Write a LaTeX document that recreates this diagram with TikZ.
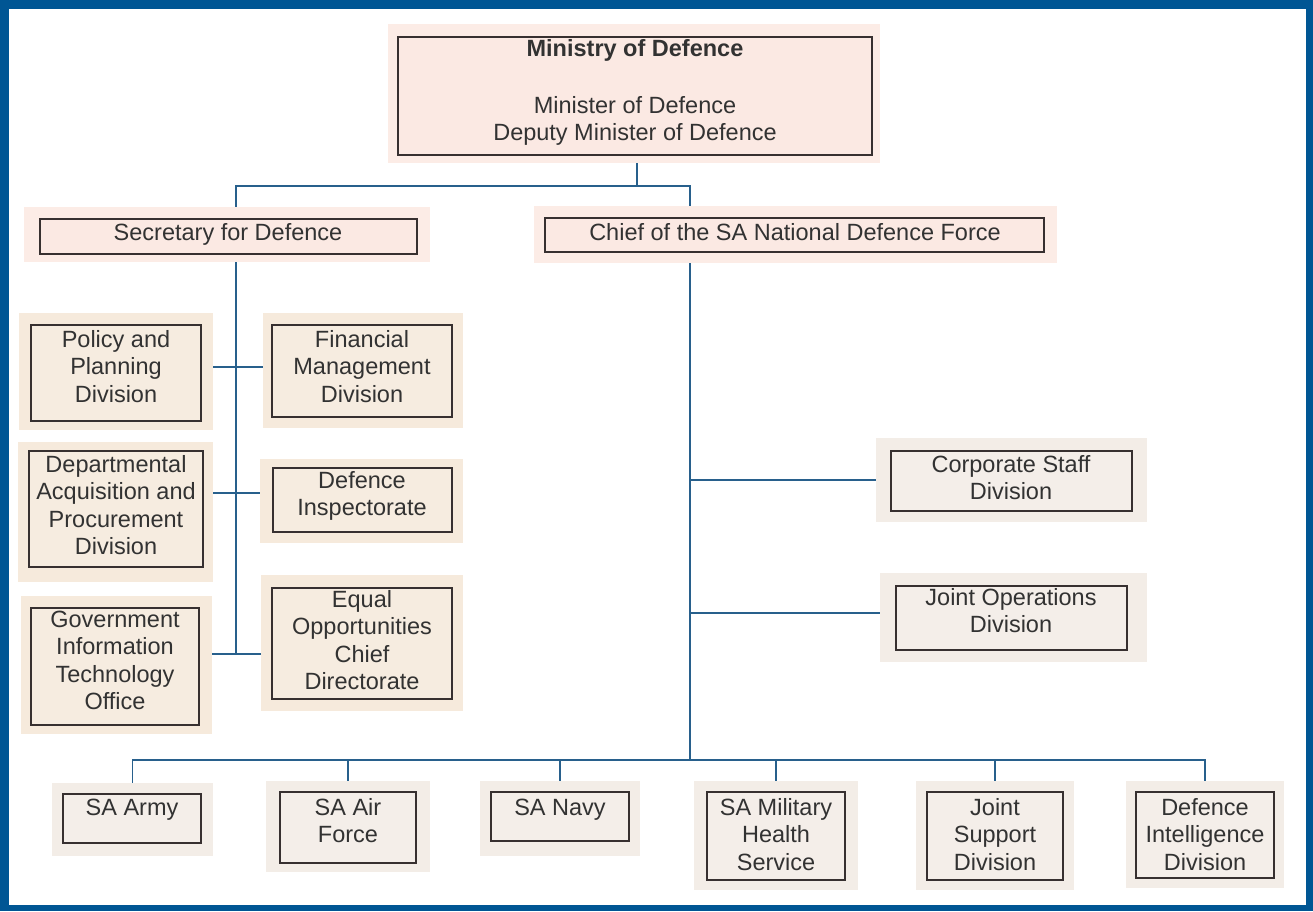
\documentclass[tikz,border=0pt]{standalone}
\usepackage{fontspec}
\setmainfont{Liberation Sans}
\usetikzlibrary{fit}
\definecolor{frameblue}{RGB}{0,86,148}
\definecolor{lineblue}{RGB}{40,96,140}
\definecolor{boxline}{RGB}{55,48,48}
\definecolor{txtcol}{RGB}{50,50,50}
\definecolor{pinkshade}{RGB}{252,236,230}
\definecolor{pinkin}{RGB}{251,233,227}
\definecolor{beigeshade}{RGB}{246,234,220}
\definecolor{beigein}{RGB}{246,236,224}
\definecolor{grayshade}{RGB}{243,237,231}
\definecolor{grayin}{RGB}{244,238,233}
\tikzset{
  shadebox/.style={fill=#1, draw=none, inner sep=0pt},
  innerbox/.style={fill=#1, draw=boxline, line width=1.5pt, inner sep=0pt},
  txt/.style={anchor=north, yshift=19.25pt, inner sep=0pt, align=center, text=txtcol,
    font=\fontsize{23.5}{27.5}\selectfont},
  conn/.style={draw=lineblue, line width=1.8pt}
}
\newcommand\orgbox[6]{%
  \node[shadebox=#2shade, fit={#3}] (#1) {};
  \node[innerbox=#2in, fit={#4}] (#1in) {};
  \node[txt] at (#5) {\strut #6};
}
\begin{document}
\begin{tikzpicture}[x=1pt,y=-1pt]
\fill[frameblue] (0,0) rectangle (1313,911);
\fill[white] (9,9) rectangle (1306,905);
\useasboundingbox (0,0) rectangle (1313,911);

% top level
\node[shadebox=pinkshade, fit={(388,24)(880,163)}] (mod) {};
\node[innerbox=pinkin, fit={(398,37)(872,155)}] (modin) {};
\node[txt, font=\fontsize{23.5}{27.5}\selectfont\bfseries] at (635,56) {\strut Ministry of Defence};
\node[txt] at (635,113) {\strut Minister of Defence\\Deputy Minister of Defence};

\orgbox{sec}{pink}{(24,207)(430,262)}{(40,219)(417,254)}{228,240}{Secretary for Defence}
\orgbox{chief}{pink}{(534,206)(1057,263)}{(545,218)(1044,252)}{795,240}{Chief of the SA National Defence Force}

% secretary divisions
\orgbox{pol}{beige}{(19,313)(213,430)}{(31,325)(201,421)}{116,347}{Policy and\\Planning\\Division}
\orgbox{dap}{beige}{(18,442)(213,582)}{(29,451)(203,567)}{116,472}{Departmental\\Acquisition and\\Procurement\\Division}
\orgbox{gito}{beige}{(21,596)(212,734)}{(31,608)(199,725)}{115,627}{Government\\Information\\Technology\\Office}
\orgbox{fin}{beige}{(263,313)(463,428)}{(272,325)(452,417)}{362,347}{Financial\\Management\\Division}
\orgbox{insp}{beige}{(260,459)(463,543)}{(273,468)(452,532)}{362,488}{Defence\\Inspectorate}
\orgbox{eq}{beige}{(261,575)(463,711)}{(272,588)(452,699)}{362,607}{Equal\\Opportunities\\Chief\\Directorate}

% chief divisions
\orgbox{corp}{gray}{(876,438)(1147,522)}{(891,451)(1132,511)}{1011,472}{Corporate Staff\\Division}
\orgbox{jops}{gray}{(880,573)(1147,662)}{(896,586)(1127,650)}{1011,605}{Joint Operations\\Division}

\orgbox{army}{gray}{(52,783)(213,856)}{(63,794)(201,843)}{132,815}{SA Army}
\orgbox{air}{gray}{(266,781)(430,872)}{(280,792)(416,863)}{348,815}{SA Air\\Force}
\orgbox{navy}{gray}{(480,781)(640,856)}{(491,792)(629,841)}{560,815}{SA Navy}
\orgbox{mhs}{gray}{(694,781)(858,890)}{(707,792)(845,880)}{776,815}{SA Military\\Health\\Service}
\orgbox{jsd}{gray}{(916,781)(1074,890)}{(927,792)(1063,880)}{995,815}{Joint\\Support\\Division}
\orgbox{did}{gray}{(1126,781)(1284,888)}{(1136,792)(1274,878)}{1205,815}{Defence\\Intelligence\\Division}

% connectors
\coordinate (j0) at (637,186);
\coordinate (sx) at (236,0);
\coordinate (cx) at (690,0);
\coordinate (h1) at (0,367);
\coordinate (h2) at (0,493);
\coordinate (h3) at (0,654);
\coordinate (h4) at (0,480);
\coordinate (h5) at (0,613);
\coordinate (bar) at (0,760);

\draw[conn] (j0 |- mod.south) -- (j0);
\draw[conn] (sx |- sec.north) -- (sx |- j0) -- (cx |- j0) -- (cx |- chief.north);

\draw[conn] (sx |- sec.south) -- (sx |- h3);
\draw[conn] (pol.east |- h1) -- (fin.west |- h1);
\draw[conn] (dap.east |- h2) -- (insp.west |- h2);
\draw[conn] (gito.east |- h3) -- (eq.west |- h3);

\draw[conn] (cx |- chief.south) -- (cx |- bar);
\draw[conn] (cx |- h4) -- (corp.west |- h4);
\draw[conn] (cx |- h5) -- (jops.west |- h5);

\draw[conn] (army.north) -- (army.north |- bar) -- (did.north |- bar) -- (did.north);
\foreach \n in {air,navy,mhs,jsd}{
  \draw[conn] (\n.north) -- (\n.north |- bar);
}
\end{tikzpicture}
\end{document}
